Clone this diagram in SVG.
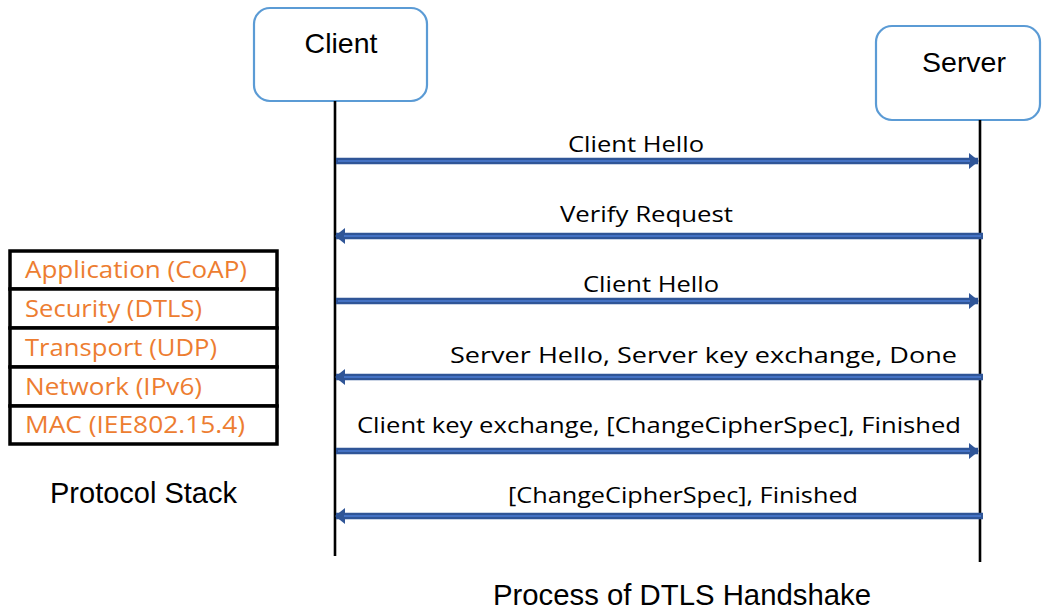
<svg xmlns="http://www.w3.org/2000/svg" width="1042" height="614" viewBox="0 0 1042 614">
  <style>
    .actor { fill: #ffffff; stroke: #5B9BD5; stroke-width: 2.2; }
    .actor-label { font-family: "Liberation Sans", Arial, sans-serif; font-size: 28.5px; fill: #000000; }
    .lifeline { stroke: #000000; stroke-width: 2.6; }
    .msg { stroke: #2F5597; stroke-width: 6.5; fill: none; }
    .msg-core { stroke: #4472C4; stroke-width: 2; fill: none; }
    .msg-label { font-family: "Open Sans", "Liberation Sans", sans-serif; font-size: 22.5px; fill: #000000; }
    .layer { fill: #ffffff; stroke: #000000; stroke-width: 3.5; }
    .layer-label { font-family: "Open Sans", "Liberation Sans", sans-serif; font-size: 23px; fill: #ED7D31; }
    .caption { font-family: "Liberation Sans", Arial, sans-serif; font-size: 29px; fill: #000000; }
  </style>
  <defs>
    <marker id="head" viewBox="0 0 10 16" refX="9" refY="8" markerWidth="10" markerHeight="16" markerUnits="userSpaceOnUse" orient="auto">
      <path d="M0,0 L10,8 L0,16 Z" fill="#2F5597"/>
    </marker>
  </defs>
  <rect width="1042" height="614" fill="#ffffff"/>

  <!-- participants -->
  <g id="client">
    <rect class="actor" x="254" y="8" width="173" height="93" rx="16"/>
    <text class="actor-label" x="341" y="53" text-anchor="middle">Client</text>
  </g>
  <g id="server">
    <rect class="actor" x="876" y="26" width="164" height="94" rx="16"/>
    <text class="actor-label" x="964" y="72" text-anchor="middle">Server</text>
  </g>

  <!-- lifelines and handshake messages -->
  <g id="connectors">
    <line class="lifeline" x1="335" y1="101" x2="335" y2="556"/>
    <line class="lifeline" x1="980" y1="120" x2="980" y2="562"/>

    <g id="msg1">
      <line class="msg" x1="336" y1="161" x2="978" y2="161" marker-end="url(#head)"/>
      <line class="msg-core" x1="338" y1="161" x2="970" y2="161"/>
    </g>
    <g id="msg2">
      <line class="msg" x1="983" y1="236" x2="336" y2="236" marker-end="url(#head)"/>
      <line class="msg-core" x1="981" y1="236" x2="344" y2="236"/>
    </g>
    <g id="msg3">
      <line class="msg" x1="336" y1="301" x2="978" y2="301" marker-end="url(#head)"/>
      <line class="msg-core" x1="338" y1="301" x2="970" y2="301"/>
    </g>
    <g id="msg4">
      <line class="msg" x1="983" y1="377" x2="336" y2="377" marker-end="url(#head)"/>
      <line class="msg-core" x1="981" y1="377" x2="344" y2="377"/>
    </g>
    <g id="msg5">
      <line class="msg" x1="336" y1="451" x2="978" y2="451" marker-end="url(#head)"/>
      <line class="msg-core" x1="338" y1="451" x2="970" y2="451"/>
    </g>
    <g id="msg6">
      <line class="msg" x1="983" y1="516" x2="336" y2="516" marker-end="url(#head)"/>
      <line class="msg-core" x1="981" y1="516" x2="344" y2="516"/>
    </g>
  </g>

  <!-- message labels -->
  <g id="labels">
    <text class="msg-label" x="568" y="152" textLength="136" lengthAdjust="spacingAndGlyphs">Client Hello</text>
    <text class="msg-label" x="560" y="222" textLength="173" lengthAdjust="spacingAndGlyphs">Verify Request</text>
    <text class="msg-label" x="583" y="292" textLength="136" lengthAdjust="spacingAndGlyphs">Client Hello</text>
    <text class="msg-label" x="450" y="363" textLength="507" lengthAdjust="spacingAndGlyphs">Server Hello, Server key exchange, Done</text>
    <text class="msg-label" x="357" y="433" textLength="604" lengthAdjust="spacingAndGlyphs">Client key exchange, [ChangeCipherSpec], Finished</text>
    <text class="msg-label" x="508" y="503" textLength="350" lengthAdjust="spacingAndGlyphs">[ChangeCipherSpec], Finished</text>
  </g>

  <!-- protocol stack table -->
  <g id="protocol-stack">
    <rect class="layer" x="10" y="251" width="267" height="38"/>
    <rect class="layer" x="10" y="289" width="267" height="39"/>
    <rect class="layer" x="10" y="328" width="267" height="39"/>
    <rect class="layer" x="10" y="367" width="267" height="39"/>
    <rect class="layer" x="10" y="406" width="267" height="38"/>
    <text class="layer-label" x="25" y="278" textLength="222" lengthAdjust="spacingAndGlyphs">Application (CoAP)</text>
    <text class="layer-label" x="25" y="317" textLength="177" lengthAdjust="spacingAndGlyphs">Security (DTLS)</text>
    <text class="layer-label" x="25" y="356" textLength="192" lengthAdjust="spacingAndGlyphs">Transport (UDP)</text>
    <text class="layer-label" x="25" y="395" textLength="177" lengthAdjust="spacingAndGlyphs">Network (IPv6)</text>
    <text class="layer-label" x="25" y="433" textLength="220" lengthAdjust="spacingAndGlyphs">MAC (IEE802.15.4)</text>
  </g>

  <!-- captions -->
  <text class="caption" x="50" y="503" textLength="187" lengthAdjust="spacingAndGlyphs">Protocol Stack</text>
  <text class="caption" x="493" y="605" textLength="378" lengthAdjust="spacingAndGlyphs">Process of DTLS Handshake</text>
</svg>
